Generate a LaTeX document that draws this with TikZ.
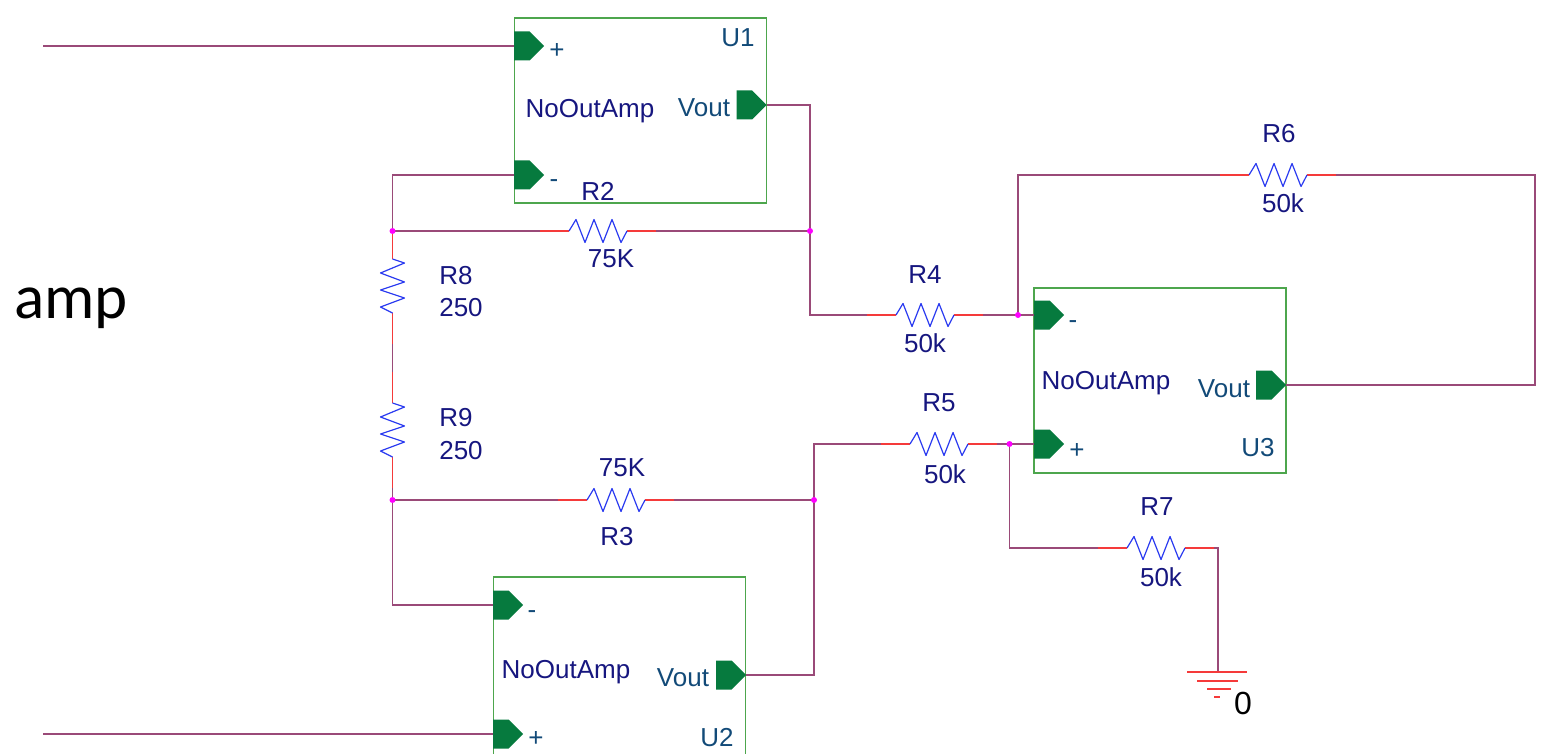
\documentclass[tikz,border=0pt]{standalone}
\usepackage{fontspec}
\setmainfont{Liberation Sans}
\newfontfamily\calfont{Carlito}
\usetikzlibrary{shapes.symbols}
\definecolor{wirec}{HTML}{9A4A78}
\definecolor{pinc}{HTML}{067A3E}
\definecolor{boxc}{HTML}{4DA64D}
\definecolor{zigc}{HTML}{2A3AF0}
\definecolor{leadc}{HTML}{F53A3A}
\definecolor{labc}{HTML}{16167F}
\definecolor{pinlab}{HTML}{124A78}
\definecolor{juncc}{HTML}{FF00FF}
\tikzset{
  wire/.style={draw=wirec,line width=1.6pt,line join=miter},
  lead/.style={draw=leadc,line width=1.6pt},
  zig/.style={draw=zigc,line width=1.2pt,line join=round},
  block/.style={draw=boxc,line width=1.6pt,rectangle,inner sep=0pt,minimum width=252pt,minimum height=185pt},
  pinshape/.style={shape=signal,signal to=east,fill=pinc,inner sep=0pt,minimum width=30pt,minimum height=29pt,anchor=west},
  junc/.style={circle,fill=juncc,inner sep=0pt,minimum size=6pt},
  lab/.style={text=labc,font=\fontsize{26}{26}\selectfont,inner sep=0pt},
  plab/.style={text=pinlab,font=\fontsize{26}{26}\selectfont,inner sep=0pt},
  gnd/.style={draw=leadc,line width=1.6pt}
}
% horizontal resistor: name, centre x, y
\newcommand{\hres}[3]{%
  \coordinate (#1a) at (#2-58,#3);
  \coordinate (#1b) at (#2+58,#3);
  \draw[lead] (#1a) -- (#2-29,#3);
  \draw[lead] (#2+29,#3) -- (#1b);
  \draw[zig] (#2-29,#3) -- (#2-22,#3-11.5) -- (#2-13,#3+11.5) -- (#2-4,#3-11.5) -- (#2+5,#3+11.5) -- (#2+14,#3-11.5) -- (#2+23,#3+11.5) -- (#2+29,#3);
}
% vertical resistor: name, x, centre y
\newcommand{\vres}[3]{%
  \coordinate (#1a) at (#2,#3-58);
  \coordinate (#1b) at (#2,#3+58);
  \draw[lead] (#1a) -- (#2,#3-27);
  \draw[lead] (#2,#3+27) -- (#1b);
  \draw[zig] (#2,#3-27) -- (#2+12,#3-23) -- (#2-12,#3-13) -- (#2+12,#3-4) -- (#2-12,#3+4) -- (#2+12,#3+12) -- (#2-12,#3+21) -- (#2,#3+27);
}
\begin{document}
\begin{tikzpicture}[x=1pt,y=-1pt]
\useasboundingbox (0,0) rectangle (1542,754);
\clip (0,0) rectangle (1542,754);

% amplifier blocks
\node[block] (U1) at (640.5,110.5) {};
\node[block,minimum height=260pt] (U2) at (619.5,707) {};
\node[block] (U3) at (1160,380.5) {};

% pins
\node[pinshape] (U1p) at (514,46) {};
\node[pinshape] (U1m) at (514,175) {};
\node[pinshape] (U1o) at (736.5,105) {};
\node[pinshape] (U2m) at (493,605) {};
\node[pinshape] (U2p) at (493,734) {};
\node[pinshape] (U2o) at (716,675) {};
\node[pinshape] (U3m) at (1034,315) {};
\node[pinshape] (U3p) at (1034,444) {};
\node[pinshape] (U3o) at (1256,385) {};

% resistors
\hres{R2}{598}{231}
\hres{R3}{616}{500}
\hres{R4}{925}{315}
\hres{R5}{939}{444}
\hres{R6}{1278}{175}
\hres{R7}{1156}{548}
\vres{R8}{392.5}{286}
\vres{R9}{392.5}{430}

% junctions and free ends
\coordinate (inA) at (43,46);
\coordinate (inB) at (43,734);
\coordinate (J1) at (810,231);
\coordinate (J2) at (392.5,231);
\coordinate (J3) at (392.5,500);
\coordinate (J4) at (814,500);
\coordinate (J5) at (1018,315);
\coordinate (J6) at (1009.5,444);
\coordinate (G) at (1218,672);

% wires
\draw[wire] (inA) -- (U1p.west);
\draw[wire] (inB) -- (U2p.west);
\draw[wire] (U1o.east) -| (J1) |- (R4a);
\draw[wire] (U1m.west) -| (J2);
\draw[wire] (J2) -- (R2a);
\draw[wire] (R2b) -- (J1);
\draw[wire] (J2) -- (R8a);
\draw[wire] (R8b) -- (R9a);
\draw[wire] (R9b) -- (J3);
\draw[wire] (J3) -- (R3a);
\draw[wire] (R3b) -- (J4);
\draw[wire] (J3) |- (U2m.west);
\draw[wire] (U2o.east) -| (J4);
\draw[wire] (J4) |- (R5a);
\draw[wire] (R4b) -- (J5) -- (U3m.west);
\draw[wire] (J5) |- (R6a);
\draw[wire] (R6b) -- (1535,175) -- (1535,385) -- (U3o.east);
\draw[wire] (R5b) -- (J6) -- (U3p.west);
\draw[wire] (J6) |- (R7a);
\draw[wire] (R7b) -| (G);

% ground
\draw[gnd] (1187,672) -- (1247,672);
\draw[gnd] (1197,681) -- (1238,681);
\draw[gnd] (1207,689) -- (1231,689);
\draw[gnd] (1214,697) -- (1220,697);

% junction dots
\foreach \j in {J1,J2,J3,J4,J5,J6} \node[junc] (dot\j) at (\j) {};

% labels
\node[lab] (tR2) at (598,191) {R2};
\node[lab] (vR2) at (611,259) {75K};
\node[lab] (tR3) at (617,537) {R3};
\node[lab] (vR3) at (622,468) {75K};
\node[lab] (tR4) at (925,275) {R4};
\node[lab] (vR4) at (925,343) {50k};
\node[lab] (tR5) at (939,403) {R5};
\node[lab] (vR5) at (945,474) {50k};
\node[lab] (tR6) at (1279,134) {R6};
\node[lab] (vR6) at (1283,203) {50k};
\node[lab] (tR7) at (1157,507) {R7};
\node[lab] (vR7) at (1161,577) {50k};
\node[lab] (tR8) at (456,276) {R8};
\node[lab] (vR8) at (461,308) {250};
\node[lab] (tR9) at (456,418) {R9};
\node[lab] (vR9) at (461,451) {250};
\node[lab] (nU1) at (590,111) {NoOutAmp};
\node[lab] (nU2) at (566,672) {NoOutAmp};
\node[lab] (nU3) at (1106,383) {NoOutAmp};
\node[plab] (tU1) at (738,38) {U1};
\node[plab] (tU2) at (717,738) {U2};
\node[plab] (tU3) at (1258,448) {U3};
\node[plab] (oU1) at (704,108) {Vout};
\node[plab] (oU2) at (683,678) {Vout};
\node[plab] (oU3) at (1224,389) {Vout};
\node[plab] (pU1) at (557,51) {+};
\node[plab] (mU1) at (554,184) {-};
\node[plab] (mU2) at (532,615) {-};
\node[plab] (pU2) at (536,739) {+};
\node[plab] (mU3) at (1073,325) {-};
\node[plab] (pU3) at (1077,451) {+};
\node[text=black,font=\fontsize{32}{32}\selectfont,inner sep=0pt] (zero) at (1243,703) {0};
\node[text=black,font=\calfont\fontsize{63}{63}\selectfont,inner sep=0pt,anchor=base west] (amp) at (14,318) {amp};
\end{tikzpicture}
\end{document}
